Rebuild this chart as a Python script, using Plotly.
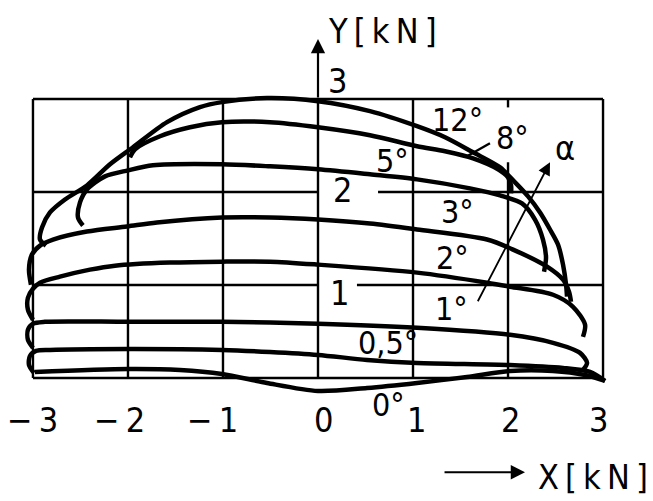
import plotly.graph_objects as go

# Force polar curves Y(X) for several angles of attack, X and Y in kN
angles = ["12°", "8°", "5°", "3°", "2°", "1°", "0,5°", "0°"]

x_12 = [-2.863, -2.926, -2.905, -2.821, -2.663, -2.432, -2.189, -1.947, -1.589, -1.242, -1.011, -0.537, 0.0,
        0.547, 1.042, 1.337, 1.632, 1.916, 2.074, 2.211, 2.337, 2.442, 2.526, 2.579, 2.611, 2.621]
y_12 = [1.424, 1.489, 1.618, 1.78, 1.92, 2.071, 2.298, 2.481, 2.751, 2.913, 2.967, 3.01, 2.977,
        2.87, 2.708, 2.589, 2.427, 2.265, 2.104, 1.953, 1.78, 1.597, 1.435, 1.219, 1.003, 0.874]

x_8 = [-1.979, -1.926, -1.663, -1.347, -1.011, -0.505, 0.0, 0.547, 1.042, 1.337, 1.632, 1.895, 2.0, 2.032, 2.032]
y_8 = [2.373, 2.46, 2.6, 2.697, 2.751, 2.751, 2.697, 2.611, 2.492, 2.438, 2.362, 2.244, 2.157, 2.071, 1.985]

x_5 = [-2.474, -2.526, -2.505, -2.432, -2.242, -2.0, -1.737, -1.011, -0.505, 0.0, 0.547, 1.042, 1.6,
       1.916, 2.147, 2.284, 2.368, 2.4, 2.379]
y_5 = [1.64, 1.726, 1.888, 2.028, 2.168, 2.233, 2.287, 2.298, 2.276, 2.244, 2.19, 2.136, 2.039,
       1.963, 1.877, 1.704, 1.489, 1.294, 1.143]

x_3 = [-3.021, -3.042, -3.011, -2.926, -2.789, -2.432, -2.011, -1.695, -1.011, -0.505, 0.0, 0.547, 1.042,
       1.779, 2.053, 2.411, 2.579, 2.642, 2.663]
y_3 = [1.003, 1.165, 1.327, 1.424, 1.489, 1.575, 1.629, 1.672, 1.726, 1.726, 1.704, 1.661, 1.597,
       1.489, 1.381, 1.197, 1.057, 0.928, 0.82]

x_2 = [-3.0, -3.053, -3.053, -3.0, -2.926, -2.716, -2.4, -2.137, -1.558, -1.011, -0.505, 0.0, 1.042,
       1.779, 2.021, 2.474, 2.684, 2.811, 2.789]
y_2 = [0.626, 0.734, 0.863, 0.96, 1.025, 1.09, 1.165, 1.208, 1.241, 1.251, 1.251, 1.219, 1.133,
       1.025, 0.982, 0.895, 0.766, 0.572, 0.442]

x_1 = [-3.0, -3.053, -3.053, -3.0, -2.874, -2.0, -1.011, 0.0, 1.042, 2.021, 2.474, 2.758, 2.832, 2.789]
y_1 = [0.324, 0.41, 0.518, 0.583, 0.604, 0.604, 0.604, 0.583, 0.539, 0.464, 0.378, 0.27, 0.162, 0.086]

x_05 = [-2.989, -3.042, -3.032, -2.968, -2.821, -2.0, -1.011, -0.505, 0.0, 0.516, 1.042, 2.021, 2.579,
        2.863, 3.021]
y_05 = [0.054, 0.14, 0.237, 0.291, 0.302, 0.313, 0.302, 0.28, 0.248, 0.194, 0.162, 0.14, 0.108,
        0.065, -0.032]

x_0 = [-2.979, -2.0, -1.453, -1.011, -0.537, 0.0, 0.516, 1.042, 1.568, 2.021, 2.474, 2.811, 3.021]
y_0 = [0.065, 0.097, 0.086, 0.043, -0.054, -0.14, -0.108, -0.054, 0.011, 0.076, 0.076, 0.032, -0.032]

curves_x = [x_12, x_8, x_5, x_3, x_2, x_1, x_05, x_0]
curves_y = [y_12, y_8, y_5, y_3, y_2, y_1, y_05, y_0]

# Angle label anchor points (X, Y)
label_x = [1.463, 2.042, 0.779, 1.463, 1.42, 1.41, 0.737, 0.737]
label_y = [2.77, 2.578, 2.33, 1.78, 1.294, 0.744, 0.378, -0.29]

x_ticks = [-3, -2, -1, 0, 1, 2, 3]
x_tick_text = ["−\u20093", "−\u20092", "−\u20091", "0", "1", "2", "3"]
y_ticks = [1, 2, 3]
y_tick_text = ["1", "2", "3"]

INK = "#000000"
FONT = "Liberation Sans Narrow, Arial Narrow, DejaVu Sans Condensed, Roboto Condensed, sans-serif"

fig = go.Figure()

# grid: vertical lines
grid_lw = 2.4
for xv in x_ticks:
    if xv == 2:
        segs = [(0, 2.32), (2.91, 3)]
    else:
        segs = [(0, 3)]
    for y0, y1 in segs:
        fig.add_trace(go.Scatter(x=[xv, xv], y=[y0, y1], mode="lines",
                                 line=dict(color=INK, width=grid_lw), hoverinfo="skip"))
# grid: horizontal lines (y=1 and y=2 broken where the tick label sits)
h_segments = {0: [(-3, 3)], 1: [(-3, 0), (0.41, 3)], 2: [(-3, 0), (0.632, 3)], 3: [(-3, 3)]}
for yv, segs in h_segments.items():
    for x0, x1 in segs:
        fig.add_trace(go.Scatter(x=[x0, x1], y=[yv, yv], mode="lines",
                                 line=dict(color=INK, width=grid_lw), hoverinfo="skip"))

# polar curves
for cx, cy in zip(curves_x, curves_y):
    fig.add_trace(go.Scatter(x=cx, y=cy, mode="lines",
                             line=dict(color=INK, width=4.5, shape="spline", smoothing=0.8),
                             hoverinfo="skip"))

ann = []
# angle labels
for t, lx, ly in zip(angles, label_x, label_y):
    ann.append(dict(x=lx, y=ly, text=t, showarrow=False, xanchor="center", yanchor="middle",
                    font=dict(size=32, color=INK, family=FONT)))

# x tick labels
x_shift = [0, -8, -10, 5, 3, 2, -5]
for xv, t, s in zip(x_ticks, x_tick_text, x_shift):
    ann.append(dict(x=xv, y=-0.453, text=t, showarrow=False, xanchor="center", yanchor="middle",
                    xshift=s, font=dict(size=34, color=INK, family=FONT)))

# y tick labels, right of the Y axis
y_label_x = [0.23, 0.263, 0.21]
for yv, t, lx in zip(y_ticks, y_tick_text, y_label_x):
    ann.append(dict(x=lx, y=yv, text=t, showarrow=False, xanchor="center", yanchor="middle",
                    yshift=(-8 if yv == 1 else (2 if yv == 2 else 18)),
                    font=dict(size=34, color=INK, family=FONT)))

# Y axis arrow and title
ann.append(dict(x=0, y=3.646, ax=0, ay=3.0, xref="x", yref="y", axref="x", ayref="y",
                showarrow=True, arrowhead=2, arrowsize=1.3, arrowwidth=2.2, arrowcolor=INK, text=""))
ann.append(dict(x=0.674, y=3.73, text="Y\u2009[\u2009k\u2009N\u2009]", showarrow=False,
                xanchor="center", yanchor="middle", font=dict(size=34, color=INK, family=FONT)))

# X axis arrow and title
ann.append(dict(x=2.179, y=-1.014, ax=1.316, ay=-1.014, xref="x", yref="y", axref="x", ayref="y",
                showarrow=True, arrowhead=2, arrowsize=1.3, arrowwidth=2.2, arrowcolor=INK, text=""))
ann.append(dict(x=2.895, y=-1.068, text="X\u2009[\u2009k\u2009N\u2009]", showarrow=False,
                xanchor="center", yanchor="middle", font=dict(size=34, color=INK, family=FONT)))

# alpha direction arrow
ann.append(dict(x=2.442, y=2.319, ax=1.674, ay=0.809, xref="x", yref="y", axref="x", ayref="y",
                showarrow=True, arrowhead=2, arrowsize=1.4, arrowwidth=1.8, arrowcolor=INK, text=""))
ann.append(dict(x=2.6, y=2.47, text="α", showarrow=False, xanchor="center", yanchor="middle",
                font=dict(size=34, color=INK, family=FONT)))

# leader line for the 8° label
fig.add_trace(go.Scatter(x=[1.568, 1.81], y=[2.384, 2.524], mode="lines",
                         line=dict(color=INK, width=2.4), hoverinfo="skip"))

fig.update_layout(
    width=653, height=501,
    margin=dict(l=0, r=0, t=0, b=0),
    paper_bgcolor="white", plot_bgcolor="white",
    showlegend=False,
    xaxis=dict(range=[-3.347, 3.526], visible=False, fixedrange=True),
    yaxis=dict(range=[-1.323, 4.065], visible=False, fixedrange=True),
    annotations=ann,
)

fig.write_html("out.html")
